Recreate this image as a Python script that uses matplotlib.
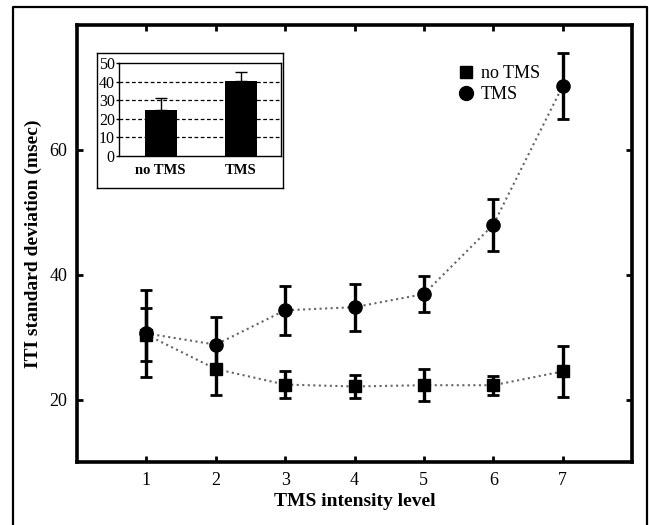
import matplotlib
matplotlib.use("Agg")
import matplotlib.pyplot as plt
from matplotlib.lines import Line2D

plt.rcParams["font.family"] = ["Liberation Serif", "DejaVu Serif"]

# main chart data
levels = [1, 2, 3, 4, 5, 6, 7]
no_tms = [30.4, 24.9, 22.4, 22.1, 22.3, 22.3, 24.5]
no_tms_err = [4.2, 4.2, 2.2, 1.8, 2.6, 1.5, 4.1]
tms = [30.6, 28.8, 34.3, 34.8, 36.9, 48.0, 70.2]
tms_err = [7.0, 4.4, 3.9, 3.75, 2.9, 4.2, 5.3]

# inset data
inset_labels = ["no TMS", "TMS"]
inset_vals = [24.5, 40.3]
inset_err = [6.5, 5.0]

W, H = 649, 525
fig = plt.figure(figsize=(W / 100, H / 100), dpi=100)

# outer frame (bottom edge cut off)
fig.add_artist(Line2D([13 / W, 13 / W, 647 / W, 647 / W],
                      [-0.02, 1 - 7 / H, 1 - 7 / H, -0.02],
                      transform=fig.transFigure, color="k", lw=1.6))

ax = fig.add_axes([77 / W, 1 - 462 / H, (632 - 77) / W, (462 - 25) / H])
ax.plot(levels, no_tms, ls=":", color="0.4", lw=1.5, zorder=1)
ax.plot(levels, tms, ls=":", color="0.4", lw=1.5, zorder=1)
ax.errorbar(levels, no_tms, yerr=no_tms_err, fmt="none", ecolor="k",
            elinewidth=2.4, capsize=4.5, capthick=2, zorder=2)
ax.errorbar(levels, tms, yerr=tms_err, fmt="none", ecolor="k",
            elinewidth=2.4, capsize=4.5, capthick=2, zorder=2)
ax.plot(levels, no_tms, ls="none", marker="s", ms=9, color="k", zorder=3)
ax.plot(levels, tms, ls="none", marker="o", ms=9.5, color="k", zorder=3)

ax.set_xlim(0, 8)
ax.set_ylim(10, 80)
ax.set_xticks(levels)
ax.set_yticks([20, 40, 60])
ax.tick_params(direction="in", length=4, width=2, labelsize=13, pad=7,
               top=True, right=True)
for s in ax.spines.values():
    s.set_linewidth(2.6)
ax.set_xlabel("TMS intensity level", fontsize=14, fontweight="bold", labelpad=3)
ax.set_ylabel("ITI standard deviation (msec)", fontsize=14, fontweight="bold",
              labelpad=5)

handles = [Line2D([], [], ls="none", marker="s", ms=9, color="k"),
           Line2D([], [], ls="none", marker="o", ms=10, color="k")]
ax.legend(handles, ["no TMS", "TMS"], loc="upper left",
          bbox_to_anchor=(0.675, 0.924), frameon=False, fontsize=13,
          handlelength=0.8, handletextpad=0.4, labelspacing=0.2,
          borderaxespad=0)

# inset frame
fr = fig.add_axes([97 / W, 1 - 188 / H, (283 - 97) / W, (188 - 53) / H])
fr.set_xticks([])
fr.set_yticks([])
for s in fr.spines.values():
    s.set_linewidth(1)

ins = fig.add_axes([119 / W, 1 - 156 / H, (281 - 119) / W, (156 - 63) / H])
ins.bar([0, 1], inset_vals, width=0.4, color="k", zorder=2)
ins.errorbar([0, 1], inset_vals, yerr=[[0, 0], inset_err], fmt="none",
             ecolor="k", elinewidth=1, capsize=4, capthick=1, zorder=1)
ins.set_xlim(-0.52, 1.5)
ins.set_ylim(0, 50)
ins.set_yticks([0, 10, 20, 30, 40, 50])
for v in [10, 20, 30, 40]:
    ins.axhline(v, color="k", ls=(0, (3, 2)), lw=0.9, zorder=0)
ins.set_xticks([0, 1])
ins.set_xticklabels(inset_labels, fontweight="bold", fontsize=10.5)
ins.tick_params(axis="y", direction="out", length=2, width=1, labelsize=11.5, pad=1)
ins.tick_params(axis="x", length=0, pad=6)
for s in ins.spines.values():
    s.set_linewidth(1)

fig.savefig("out.png", dpi=100)
